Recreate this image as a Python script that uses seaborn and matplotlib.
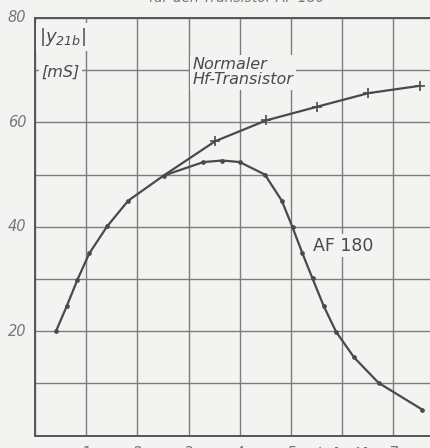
import numpy as np
import pandas as pd
import matplotlib
matplotlib.use("Agg")
import matplotlib.pyplot as plt
import seaborn as sns

# AF 180 curve (dots)
af_current = [0.41, 0.62, 0.83, 1.06, 1.41, 1.82, 2.51, 3.29, 3.66, 4.0, 4.49, 4.82,
              5.03, 5.22, 5.42, 5.64, 5.88, 6.23, 6.71, 7.56]
af_y21 = [20.0, 24.8, 29.9, 34.9, 40.1, 45.0, 49.8, 52.4, 52.7, 52.4, 50.0, 45.0,
          39.9, 35.0, 30.1, 24.8, 19.9, 15.0, 10.1, 5.0]

# normal hf transistor (crosses), branches off the AF 180 curve at 2.5 mA
hf_current = [2.51, 3.52, 4.52, 5.51, 6.51, 7.51]
hf_y21 = [49.8, 56.4, 60.4, 63.0, 65.6, 67.0]

x_ticks = [1, 2, 3, 4, 5, 7]
y_ticks = [20, 40, 60, 80]

bg = "#f3f3f1"
ink = "#4a4a4a"
grid_col = "#7d7d7d"

sns.set_style("white")
plt.rcParams["font.family"] = ["DejaVu Sans"]

af = pd.DataFrame({"I": af_current, "y": af_y21})
hf = pd.DataFrame({"I": hf_current, "y": hf_y21})

fig = plt.figure(figsize=(4.31, 4.48), dpi=100, facecolor=bg)
ax = fig.add_axes([35 / 431, 12.4 / 448, (8 * 51.2) / 431, (435.6 - 18) / 448])
ax.set_facecolor(bg)

sns.lineplot(data=af, x="I", y="y", ax=ax, color=ink, lw=1.6, marker="o",
             markersize=3.4, markeredgewidth=0, sort=False)
sns.lineplot(data=hf, x="I", y="y", ax=ax, color=ink, lw=1.6, marker="+",
             markersize=7, markeredgewidth=1.2, markeredgecolor=ink,
             markevery=list(range(1, len(hf))), sort=False)

ax.set_xlim(0, 8)
ax.set_ylim(0, 80)
ax.set_xticks(np.arange(0, 9, 1))
ax.set_yticks(np.arange(0, 81, 10))
ax.grid(True, color=grid_col, lw=1.0)
ax.set_axisbelow(True)
ax.set_xlabel("")
ax.set_ylabel("")

# tick labels: only some shown, italic and grey
ax.set_xticklabels([])
ax.set_yticklabels([])
ax.tick_params(axis="both", length=4, color=grid_col, width=1)
for v in y_ticks:
    ax.text(-0.17, v, str(v), ha="right", va="center", fontsize=10.5,
            style="italic", color="#777777", clip_on=False)
for v in x_ticks:
    ax.text(v, -1.9, str(v), ha="center", va="top", fontsize=10.5,
            style="italic", color="#777777", clip_on=False)
ax.text(6.0, -1.9, r"$I_E$ [mA]", ha="center", va="top", fontsize=10.5,
        style="italic", color="#777777", clip_on=False)

ax.spines["right"].set_visible(False)
for side in ["left", "bottom", "top"]:
    ax.spines[side].set_color("#555555")
    ax.spines[side].set_linewidth(1.4)

# labels with paper-coloured boxes over the grid
box = dict(boxstyle="square,pad=0.15", fc=bg, ec="none")
ax.text(0.08, 78.5, "|y$_{\\mathregular{21b}}$|", ha="left", va="top", fontsize=13,
        style="italic", color=ink, bbox=box)
ax.text(0.12, 71.0, "[mS]", ha="left", va="top", fontsize=11.5,
        style="italic", color=ink, bbox=box)
ax.text(3.08, 72.5, "Normaler\nHf-Transistor", ha="left", va="top", fontsize=11.5,
        style="italic", color=ink, linespacing=1.0, bbox=box)
ax.text(5.43, 36.4, "AF 180", ha="left", va="center", fontsize=12.5,
        color=ink, bbox=box)

fig.text(0.55, 1.005, "für den Transistor AF 180", ha="center", va="center",
         fontsize=10, style="italic", color="#777777")

fig.savefig("out.png", dpi=100, facecolor=bg)
